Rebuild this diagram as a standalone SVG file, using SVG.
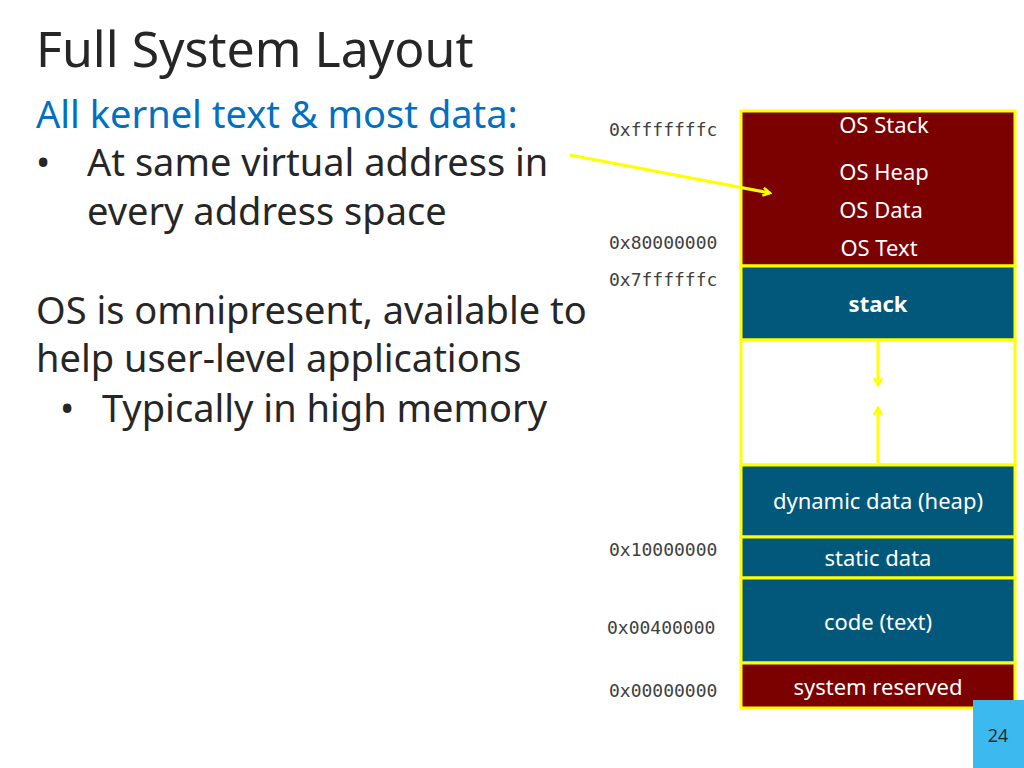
<svg xmlns="http://www.w3.org/2000/svg" width="1024" height="768" viewBox="0 0 1024 768">
<style>
.t{font-family:"Open Sans","Noto Sans","Liberation Sans",sans-serif;}
.h{font-family:"Noto Sans","Open Sans","Liberation Sans",sans-serif;fill:#262626}
.m{font-family:"DejaVu Sans Mono","Liberation Mono",monospace;font-size:18px;fill:#404040}
.w{font-family:"Noto Sans","Open Sans","Liberation Sans",sans-serif;font-size:22px;fill:#fff;text-anchor:middle}
.seg{stroke:#ffff00;stroke-width:3}
</style>
<defs>
<marker id="ah" markerWidth="10" markerHeight="10" refX="8" refY="5" orient="auto" markerUnits="userSpaceOnUse"><path d="M1,1 L8,5 L1,9" fill="none" stroke="#ffff00" stroke-width="2.5"/></marker>
</defs>
<rect width="1024" height="768" fill="#fff"/>
<text class="h" x="36" y="67" font-size="50">Full System Layout</text>
<text class="h" x="36" y="128" font-size="38" fill="#0070c0" style="fill:#0070c0">All kernel text &amp; most data:</text>
<text class="h" x="36" y="176" font-size="38">•</text>
<text class="h" x="87" y="176" font-size="38">At same virtual address in</text>
<text class="h" x="87" y="225" font-size="38">every address space</text>
<text class="h" x="36" y="324" font-size="38">OS is omnipresent, available to</text>
<text class="h" x="36" y="372" font-size="38">help user-level applications</text>
<text class="h" x="60" y="422" font-size="38">•</text>
<text class="h" x="102" y="422" font-size="38">Typically in high memory</text>
<g id="memory">
<rect class="seg" x="741" y="111" width="274" height="155" fill="#7b0000"/>
<rect class="seg" x="741" y="266" width="274" height="74" fill="#02587a"/>
<rect class="seg" x="741" y="340" width="274" height="125" fill="#fff"/>
<rect class="seg" x="741" y="465" width="274" height="72" fill="#02587a"/>
<rect class="seg" x="741" y="537" width="274" height="41" fill="#02587a"/>
<rect class="seg" x="741" y="578" width="274" height="85" fill="#02587a"/>
<rect class="seg" x="741" y="663" width="274" height="45" fill="#7b0000"/>
<text class="w" x="884" y="133">OS Stack</text>
<text class="w" x="884" y="180">OS Heap</text>
<text class="w" x="881" y="218">OS Data</text>
<text class="w" x="879" y="256">OS Text</text>
<text class="w" x="878" y="312" font-weight="bold">stack</text>
<text class="w" x="878" y="509">dynamic data (heap)</text>
<text class="w" x="878" y="566">static data</text>
<text class="w" x="878" y="630">code (text)</text>
<text class="w" x="878" y="695">system reserved</text>
</g>
<g id="labels">
<text class="m" x="609" y="136">0xfffffffc</text>
<text class="m" x="609" y="249">0x80000000</text>
<text class="m" x="609" y="286">0x7ffffffc</text>
<text class="m" x="609" y="556">0x10000000</text>
<text class="m" x="607" y="634">0x00400000</text>
<text class="m" x="609" y="697">0x00000000</text>
</g>
<g id="connectors" fill="none" stroke="#ffff00" stroke-width="3">
<line x1="570" y1="155" x2="770" y2="193" marker-end="url(#ah)"/>
<line x1="878" y1="342" x2="878" y2="385" marker-end="url(#ah)"/>
<line x1="878" y1="463" x2="878" y2="408" marker-end="url(#ah)"/>
</g>
<rect x="973" y="700" width="51" height="68" fill="#3cb9ef"/>
<text class="t" x="998" y="742" font-size="18" fill="#262626" text-anchor="middle">24</text>
</svg>
